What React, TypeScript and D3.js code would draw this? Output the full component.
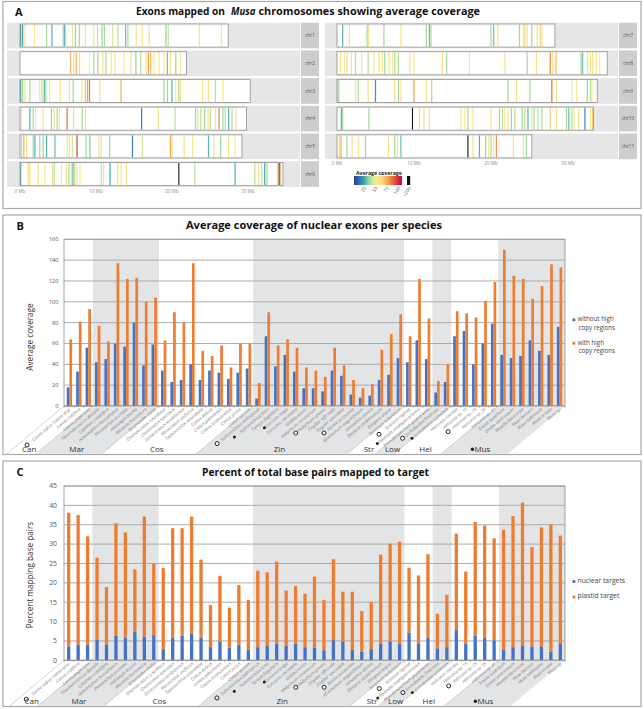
import React from 'react';
import * as d3 from 'd3';

// ---------- panel B / C data ----------
const species = [
  "Canna indica 'Indian shot'", 'Canna iridiflora', 'Canna jaegeriana',
  'Thaumatococcus daniellii', 'Calathea crotalifera', 'Ischnosiphon leucophaeus', 'Pleiostachya pruinosa',
  'Halopegia azurea', 'Maranta leuconeura', 'Stromanthe thalia',
  'Chamaecostus cuspidatus', 'Cheilocostus speciosus', 'Dimerocostus strobilaceus', 'Monocostus uniflorus',
  'Tapeinochilos ananassae', 'Costus dubius', 'Costus gabonensis', 'Costus lucanusianus', 'Costus pictus', 'Costus spiralis',
  'Siphonochilus aethiopicus', 'Siphonochilus kirkii', 'Tamijia flagellaris', 'Curcuma longa', 'Curcuma roscoeana',
  'Globba winitii', 'Hedychium coronarium', 'Hedychium greenii', 'Zingiber officinale', 'Zingiber spectabile',
  'Alpinia purpurata', 'Aframomum angustifolium', 'Renealmia alpinia', 'Elettaria cardamomum', 'Etlingera elatior',
  'Amomum subulatum',
  'Strelitzia reginae', 'Ravenala madagascariensis', 'Phenakospermum guyannense',
  'Orchidantha fimbriata', 'Orchidantha siamensis',
  'Heliconia rostrata', 'Heliconia sp. 15', 'Heliconia sp. 25', 'Heliconia sp. 35', 'Heliconia sp. 41',
  'Ensete superbum', 'Ensete ventricosum', 'Musella lasiocarpa', 'Musa beccarii', 'Musa balbisiana', 'Musa ornata', 'Musa sp.',
];
const familyNames = ['Can', 'Mar', 'Cos', 'Zin', 'Str', 'Low', 'Hel', 'Mus'];
const familySizes = [3, 7, 10, 16, 3, 2, 5, 7];
const openMarkers = [0, 20, 27, 30, 36, 39, 43];
const filledMarkers = [21, 23, 37, 40];

const withoutHighCopy = [
  18, 33, 56, 42, 45, 60, 57, 80, 39, 59, 34, 23, 25, 40, 25, 34, 32, 26, 32, 36,
  7, 67, 38, 49, 33, 17, 17, 14, 34, 29, 11, 8, 10, 25, 30, 46, 42, 63, 45, 13,
  23, 67, 72, 40, 60, 79, 49, 46, 48, 63, 53, 49, 76,
];
const withHighCopy = [
  64, 81, 93, 77, 62, 137, 122, 123, 100, 104, 63, 90, 80, 137, 53, 48, 58, 37, 60, 60,
  22, 90, 58, 64, 56, 37, 34, 28, 56, 39, 25, 17, 21, 54, 69, 88, 67, 122, 84, 24,
  40, 91, 89, 85, 101, 119, 150, 125, 122, 103, 115, 136, 133,
];
const nuclearTargets = [
  3.6, 4.1, 4.1, 5.3, 4.1, 6.3, 5.8, 7.4, 6.1, 6.5, 2.9, 5.8, 6.4, 6.8, 5.9, 3.4, 4.9, 3.2, 4.0, 2.8,
  3.4, 3.8, 4.3, 3.7, 4.3, 3.4, 3.3, 2.6, 5.2, 4.9, 2.8, 2.2, 2.9, 4.2, 4.9, 4.2, 7.2, 4.2, 5.9, 3.1,
  3.4, 7.8, 4.2, 6.3, 5.9, 5.2, 2.8, 3.4, 3.7, 3.6, 3.6, 2.2, 4.4,
];
const plastidTarget = [
  34.5, 33.4, 27.9, 21.2, 14.8, 29.1, 27.2, 16.1, 31.0, 18.6, 20.9, 28.3, 27.7, 30.3, 20.1, 10.9, 16.9, 10.4, 15.4, 12.8,
  19.7, 18.9, 21.2, 14.3, 14.9, 13.8, 18.3, 13.0, 20.9, 12.8, 14.9, 10.5, 12.1, 23.1, 25.2, 26.4, 16.7, 17.7, 21.5, 8.9,
  13.5, 24.9, 18.7, 29.4, 28.9, 26.3, 30.9, 33.8, 37.0, 25.6, 30.7, 32.9, 27.8,
];
const coverageTicks = [0, 20, 40, 60, 80, 100, 120, 140, 160];
const percentTicks = [0, 5, 10, 15, 20, 25, 30, 35, 40, 45];

// ---------- panel A data: [position Mb, average coverage] ----------
const leftChroms = ['chr1', 'chr2', 'chr3', 'chr4', 'chr5', 'chr6'];
const rightChroms = ['chr7', 'chr8', 'chr9', 'chr10', 'chr11'];
const leftLengths = [27.4, 21.9, 30.3, 29.8, 29.2, 34.6];
const rightLengths = [28.3, 35.1, 33.8, 33.3, 25.3];
const chr1 = [[0.1,18],[0.35,22],[0.65,55],[1.9,52],[3.5,35],[4.2,25],[5.7,35],[5.9,22],[6.9,45],[7.3,33],[7.8,35],[8.6,55],[9.7,55],[10.2,38],[10.8,33],[11.1,35],[12.2,42],[12.9,38],[13.9,28],[14.2,35],[15.3,55],[16.1,52],[17.0,55],[19.2,32],[19.5,38],[23.6,55],[26.5,52]];
const chr2 = [[6.67,70],[7.06,55],[7.4,72],[7.84,55],[9.15,52],[9.72,35],[10.24,33],[10.9,55],[11.3,35],[12.0,55],[12.5,52],[13.7,52],[14.6,55],[15.25,33],[15.9,38],[16.6,55],[16.9,75],[17.2,68],[17.65,52],[18.3,55],[18.95,52],[19.4,28],[19.8,55],[20.5,35],[21.1,52]];
const chr3 = [[0.09,18],[0.35,33],[0.65,55],[1.3,35],[2.6,55],[2.9,40],[3.2,25],[3.4,35],[3.9,52],[5.3,55],[6.5,45],[7.0,35],[8.15,55],[8.6,68],[8.9,75],[9.15,82],[10.5,55],[13.3,72],[18.95,33],[19.4,35],[20.0,25],[20.5,55],[20.9,35],[21.1,55],[24.0,55],[24.8,55],[25.7,38],[26.7,52]];
const chr4 = [[0.2,52],[1.3,25],[1.74,35],[2.05,52],[3.05,55],[4.14,33],[4.5,55],[4.9,35],[5.2,55],[6.2,85],[7.06,55],[8.2,35],[8.6,55],[16.0,15],[18.2,55],[20.4,38],[23.1,35],[23.4,55],[23.8,38],[24.3,35],[24.75,55],[25.05,38],[25.7,55],[26.2,80],[26.7,35],[27.0,38],[27.45,25],[27.9,38],[28.4,55]];
const chr5 = [[0.2,65],[0.5,72],[0.87,55],[1.74,35],[1.96,25],[2.6,35],[3.05,33],[3.5,25],[4.6,28],[6.2,45],[6.5,55],[6.9,42],[7.5,95],[8.7,35],[9.2,30],[10.4,55],[10.7,55],[11.8,35],[14.8,15],[16.1,42],[19.8,75],[20.0,55],[21.6,55],[22.7,55],[24.8,25],[25.5,55],[26.4,35],[27.45,55],[28.3,52]];
const chr6 = [[0.09,22],[1.1,62],[1.3,55],[2.4,55],[3.27,52],[4.27,45],[4.5,38],[5.45,55],[6.1,52],[6.45,35],[6.75,55],[6.97,25],[7.2,38],[7.5,55],[7.9,52],[10.7,38],[11.0,55],[11.85,22],[12.85,55],[13.3,52],[14.0,55],[20.9,250],[23.0,38],[28.3,25],[30.9,38],[31.4,55],[31.8,38],[32.2,22],[32.5,35],[33.9,58],[34.1,250],[34.25,70]];
const chr7 = [[0.74,25],[1.6,55],[3.9,35],[4.1,55],[6.1,35],[8.3,55],[11.6,35],[12.0,28],[12.2,35],[20.0,35],[20.35,28],[20.9,55],[23.7,35],[24.2,55],[24.4,62],[24.7,45],[25.3,35],[26.0,55],[26.4,62],[26.6,55]];
const chr8 = [[0.44,55],[1.0,52],[1.3,55],[1.87,55],[2.4,38],[3.2,55],[4.05,38],[4.8,55],[5.45,55],[5.9,52],[6.2,35],[6.75,55],[7.2,52],[7.5,35],[7.97,38],[9.45,55],[10.0,52],[13.7,55],[14.25,35],[17.2,55],[21.8,55],[24.7,35],[25.9,55],[27.7,80],[28.0,55],[28.45,68],[31.7,35],[31.9,28],[32.55,55],[32.9,52],[33.2,55],[33.7,55],[34.1,52]];
const chr9 = [[0.13,30],[0.3,55],[2.4,55],[2.75,35],[4.05,55],[5.0,18],[7.5,55],[8.0,35],[8.3,55],[10.0,75],[11.6,55],[12.3,35],[22.2,35],[23.3,55],[25.05,35],[27.9,85],[28.5,55],[30.5,55],[31.15,55],[32.5,35],[32.9,38],[33.1,52]];
const chr10 = [[0.57,25],[0.74,35],[4.14,35],[9.8,250],[10.7,55],[11.3,55],[12.0,55],[16.1,55],[16.6,52],[17.0,35],[17.65,55],[20.0,55],[21.1,35],[21.5,38],[21.8,55],[22.2,52],[22.65,35],[23.1,38],[24.05,35],[24.4,38],[24.8,25],[25.3,55],[25.6,35],[26.1,38],[26.6,35],[27.7,65],[28.5,55],[29.8,35],[30.1,28],[30.5,38],[30.8,55],[31.4,55],[32.2,15],[32.9,52],[33.2,65]];
const chr11 = [[0.3,62],[0.52,72],[1.3,35],[1.96,55],[2.8,55],[3.7,35],[6.67,55],[7.5,35],[7.84,55],[8.3,28],[17.0,250],[17.65,55],[18.5,25],[19.3,35],[19.7,55],[20.0,35],[20.35,55],[20.7,78],[22.9,55],[24.2,55],[24.6,35]];
const mbTicks = [0, 10, 20, 30];
const legendTicks = [25, 50, 75, 100];
const coverageStops = [0, 12, 22, 32, 42, 50, 62, 75, 88, 100, 106];
const coverageColors = ['#2c3990', '#3470b8', '#3aa7a8', '#8fd3a0', '#d3ea94', '#f4ed90', '#fbd87c', '#f8a04e', '#ec5a3c', '#d31f3a', '#a3104a'];

const W = 644;
const H = 709;
const FONT = "'Open Sans', 'Noto Sans', sans-serif";
const BLUE = '#4472c4';
const ORANGE = '#ed7d31';
const PANEL_L = 3;
const PANEL_R = 641;
const SLANT = Math.tan((40 * Math.PI) / 180);

function PanelA() {
  const color = d3.scaleLinear<string>().domain(coverageStops).range(coverageColors).clamp(true);
  const exonColor = (c: number) => (c > 200 ? '#151515' : color(c));
  const rowTop = (i: number) => 22.7 + i * 27.7;
  const rowH = 25.7;
  const cols = [
    { names: leftChroms, lengths: leftLengths, exons: [chr1, chr2, chr3, chr4, chr5, chr6],
      x: d3.scaleLinear().domain([0, 30]).range([20, 248]), strip: [7, 300], label: [301, 319] },
    { names: rightChroms, lengths: rightLengths, exons: [chr7, chr8, chr9, chr10, chr11],
      x: d3.scaleLinear().domain([0, 30]).range([337, 568]), strip: [325, 618], label: [619, 637] },
  ];
  const lx = d3.scaleLinear().domain([0, 106]).range([354, 402]);

  return (
    <g>
      <rect x={PANEL_L} y={1.5} width={PANEL_R - PANEL_L} height={207} fill="#fff" stroke="#a9a9a9" strokeWidth={1.2} />
      <text x={15} y={15.7} fontSize={11} fontWeight={700} fill="#111">A</text>
      {/* title split in three pieces so the genus can be italic */}
      <text x={136} y={14.8} fontSize={11} fontWeight={700} fill="#111" textLength={89} lengthAdjust="spacingAndGlyphs">Exons mapped on</text>
      <text x={231} y={14.8} fontSize={11} fontWeight={700} fontStyle="italic" fill="#111" textLength={24.5} lengthAdjust="spacingAndGlyphs">Musa</text>
      <text x={258.5} y={14.8} fontSize={11} fontWeight={700} fill="#111" textLength={221.5} lengthAdjust="spacingAndGlyphs">chromosomes showing average coverage</text>
      {cols.map((col, ci) => (
        <g key={ci}>
          {col.names.map((name, ri) => {
            const y0 = rowTop(ri);
            return (
              <g key={name}>
                <rect x={col.strip[0]} y={y0} width={col.strip[1] - col.strip[0]} height={rowH} fill="#e6e6e6" />
                <rect x={col.label[0]} y={y0} width={col.label[1] - col.label[0]} height={rowH} fill="#cdcdcd" />
                <text x={(col.label[0] + col.label[1]) / 2} y={y0 + rowH / 2 + 1.7} fontSize={4.8} fill="#555" textAnchor="middle">{name}</text>
                <rect x={col.x(0)} y={y0 + 1.3} width={col.x(col.lengths[ri]) - col.x(0)} height={rowH - 2.6} fill="#fff" />
                {col.exons[ri].map((e, k) => (
                  <line key={k} x1={col.x(e[0])} x2={col.x(e[0])} y1={y0 + 1.8} y2={y0 + rowH - 1.8}
                    stroke={exonColor(e[1])} strokeWidth={e[1] > 200 ? 1.1 : 1.2} />
                ))}
                <rect x={col.x(0)} y={y0 + 1.3} width={col.x(col.lengths[ri]) - col.x(0)} height={rowH - 2.6} fill="none" stroke="#9a9a9a" strokeWidth={0.9} />
              </g>
            );
          })}
          {mbTicks.map((t) => (
            <text key={t} x={col.x(t)} y={rowTop(col.names.length - 1) + rowH + 6} fontSize={4.6} fill="#8a8a8a" textAnchor="middle">{t} Mb</text>
          ))}
        </g>
      ))}
      <defs>
        <linearGradient id="covGrad" x1="0" x2="1" y1="0" y2="0">
          {coverageStops.map((s, i) => (
            <stop key={i} offset={s / 106} stopColor={coverageColors[i]} />
          ))}
        </linearGradient>
      </defs>
      <text x={356} y={175} fontSize={5.2} fontWeight={700} fill="#222">Average coverage</text>
      <rect x={lx(0)} y={176} width={lx(106) - lx(0)} height={9} fill="url(#covGrad)" />
      <rect x={407} y={176} width={3.2} height={9} fill="#111" />
      {legendTicks.map((t) => (
        <text key={t} transform={`translate(${lx(t) + 1},${188}) rotate(-60)`} fontSize={4.6} fill="#555" textAnchor="end">{t}</text>
      ))}
      <text transform={`translate(${411},${188}) rotate(-60)`} fontSize={4.6} fill="#555" textAnchor="end">&gt;200</text>
    </g>
  );
}

type LegendItem = { color: string; lines: string[]; y: number };

function BarPanel(props: {
  letter: string; title: string; titleX: number; titleW: number; titleY: number;
  boxTop: number; boxBottom: number; plotTop: number; axisY: number; yMax: number; ticks: number[];
  tickFont: number; tickX: number; yTitle: string; yTitleY: number;
  first: number[]; second: number[]; stacked: boolean; padInner: number; padOuter: number;
  legend: LegendItem[]; legendFont: number; id: string;
}) {
  const p = props;
  const plotL = 64;
  const plotR = 565;
  const idx = d3.range(species.length);
  const x = d3.scaleBand<number>().domain(idx).range([plotL, plotR]).paddingInner(p.padInner).paddingOuter(p.padOuter);
  const bw = x.bandwidth();
  const sub = d3.scaleBand<string>().domain(['a', 'b']).range([0, bw]);
  const y = d3.scaleLinear().domain([0, p.yMax]).range([p.axisY, p.plotTop]);
  const boundary = (i: number) => {
    if (i <= 0) return plotL;
    if (i >= species.length) return plotR;
    return ((x(i - 1) as number) + bw + (x(i) as number)) / 2;
  };
  const starts = familySizes.map((_, f) => d3.sum(familySizes.slice(0, f)));
  const depth = p.boxBottom - p.axisY;
  const shift = depth / SLANT;
  const labelY = p.boxBottom - 2.5;
  const labelShift = (labelY - 3 - p.axisY) / SLANT;
  const lblFont = 4.3;
  const cos = Math.cos((40 * Math.PI) / 180);
  const sin = Math.sin((40 * Math.PI) / 180);
  const anchor = (i: number) => [(x(i) as number) + bw / 2 + 1, p.axisY + 2.5];
  const markerPos = (i: number) => {
    const [ax, ay] = anchor(i);
    const d = species[i].length * lblFont * 0.48 + 3;
    return [ax - d * cos, ay + d * sin];
  };

  return (
    <g>
      <rect x={PANEL_L} y={p.boxTop} width={PANEL_R - PANEL_L} height={p.boxBottom - p.boxTop} fill="#fff" stroke="#a9a9a9" strokeWidth={1.2} />
      <text x={16.5} y={p.titleY + 0.5} fontSize={11} fontWeight={700} fill="#111">{p.letter}</text>
      <text x={p.titleX} y={p.titleY} fontSize={11} fontWeight={700} fill="#111" textLength={p.titleW} lengthAdjust="spacingAndGlyphs">{p.title}</text>

      {/* family shading inside the plot */}
      {familyNames.map((f, fi) => fi % 2 === 1 ? (
        <rect key={f} x={boundary(starts[fi])} y={p.plotTop} width={boundary(starts[fi] + familySizes[fi]) - boundary(starts[fi])}
          height={p.axisY - p.plotTop} fill="#e3e4e5" />
      ) : null)}

      {/* gridlines */}
      {p.ticks.map((t) => (
        <line key={t} x1={plotL} x2={plotR} y1={y(t)} y2={y(t)} stroke="#a3a3a3" strokeWidth={0.9} />
      ))}
      <rect x={plotL} y={p.plotTop} width={plotR - plotL} height={p.axisY - p.plotTop} fill="none" stroke="#9a9a9a" strokeWidth={0.9} />
      {p.ticks.map((t) => (
        <text key={t} x={p.tickX} y={y(t)} dy="0.35em" fontSize={p.tickFont} fill="#555" textAnchor="end">{t}</text>
      ))}
      <text transform={`translate(33,${p.yTitleY}) rotate(-90)`} fontSize={8.2} fill="#333" textAnchor="middle">{p.yTitle}</text>

      {/* bars */}
      {idx.map((i) => p.stacked ? (
        <g key={i}>
          <rect x={x(i)} y={y(p.first[i])} width={bw} height={p.axisY - y(p.first[i])} fill={BLUE} />
          <rect x={x(i)} y={y(p.first[i] + p.second[i])} width={bw} height={y(p.first[i]) - y(p.first[i] + p.second[i])} fill={ORANGE} />
        </g>
      ) : (
        <g key={i}>
          <rect x={(x(i) as number) + (sub('a') as number)} y={y(p.first[i])} width={sub.bandwidth()} height={p.axisY - y(p.first[i])} fill={BLUE} />
          <rect x={(x(i) as number) + (sub('b') as number)} y={y(p.second[i])} width={sub.bandwidth()} height={p.axisY - y(p.second[i])} fill={ORANGE} />
        </g>
      ))}

      {/* category ticks */}
      {d3.range(species.length + 1).map((i) => (
        <line key={i} x1={boundary(i)} x2={boundary(i)} y1={p.axisY} y2={p.axisY + 2} stroke="#9a9a9a" strokeWidth={0.6} />
      ))}

      {/* slanted family bands below the axis */}
      <defs>
        <clipPath id={`clip-${p.id}`}>
          <rect x={PANEL_L + 0.8} y={p.axisY} width={PANEL_R - PANEL_L - 1.6} height={depth - 0.8} />
        </clipPath>
      </defs>
      <g clipPath={`url(#clip-${p.id})`}>
        {familyNames.map((f, fi) => {
          const b0 = boundary(starts[fi]);
          const b1 = boundary(starts[fi] + familySizes[fi]);
          const pts = [[b0, p.axisY], [b1, p.axisY], [b1 - shift, p.boxBottom], [b0 - shift, p.boxBottom]];
          return (
            <g key={f}>
              {fi % 2 === 1 ? <polygon points={pts.map((q) => q.join(',')).join(' ')} fill="#e3e4e5" /> : null}
              <line x1={b0} y1={p.axisY} x2={b0 - shift} y2={p.boxBottom} stroke="#b5b5b5" strokeWidth={0.6} />
            </g>
          );
        })}
      </g>
      <line x1={plotL} x2={plotR} y1={p.axisY} y2={p.axisY} stroke="#9a9a9a" strokeWidth={0.9} />

      {/* species labels */}
      {idx.map((i) => {
        const [ax, ay] = anchor(i);
        return (
          <text key={i} transform={`translate(${ax},${ay}) rotate(-40)`} dy="0.35em" fontSize={lblFont} fontStyle="italic" fill="#7d7d7d" textAnchor="end">{species[i]}</text>
        );
      })}
      {openMarkers.map((i) => {
        const [mx, my] = markerPos(i);
        return <circle key={`o${i}`} cx={mx} cy={my} r={2} fill="#fff" stroke="#222" strokeWidth={1} />;
      })}
      {filledMarkers.map((i) => {
        const [mx, my] = markerPos(i);
        return <circle key={`f${i}`} cx={mx} cy={my} r={1.5} fill="#222" />;
      })}

      {/* family labels */}
      {familyNames.map((f, fi) => {
        const b0 = boundary(starts[fi]);
        const b1 = boundary(starts[fi] + familySizes[fi]);
        const cx = Math.max((b0 + b1) / 2 - labelShift + 2, 26.5);
        return (
          <g key={f}>
            {f === 'Mus' ? <circle cx={cx - 10} cy={labelY - 2.8} r={1.7} fill="#222" /> : null}
            <text x={cx} y={labelY} fontSize={8} fill="#333" textAnchor="middle">{f}</text>
          </g>
        );
      })}

      {/* legend */}
      {p.legend.map((l, li) => (
        <g key={li}>
          <rect x={572.5} y={l.y - 2.6} width={2.8} height={2.8} fill={l.color} />
          {l.lines.map((s, k) => (
            <text key={k} x={577.5 + (k > 0 ? 1 : 0)} y={l.y + k * p.legendFont * 1.45} fontSize={p.legendFont} fill="#444">{s}</text>
          ))}
        </g>
      ))}
    </g>
  );
}

export default function App() {
  return (
    <svg width={W} height={H} viewBox={`0 0 ${W} ${H}`} fontFamily={FONT}
      style={{ position: 'absolute', left: 0, top: 0, background: '#fff' }}>
      <rect x={0} y={0} width={W} height={H} fill="#fff" />
      <PanelA />
      <BarPanel id="b" letter="B" title="Average coverage of nuclear exons per species" titleX={186} titleW={256} titleY={229.3}
        boxTop={215} boxBottom={454.5} plotTop={239.3} axisY={406} yMax={160} ticks={coverageTicks}
        tickFont={5.6} tickX={58.5} yTitle="Average coverage" yTitleY={337}
        first={withoutHighCopy} second={withHighCopy} stacked={false} padInner={0.43} padOuter={0.29}
        legend={[
          { color: BLUE, lines: ['without high', 'copy regions'], y: 321 },
          { color: ORANGE, lines: ['with high', 'copy regions'], y: 344.5 },
        ]} legendFont={6.2} />
      <BarPanel id="c" letter="C" title="Percent of total base pairs mapped to target" titleX={202} titleW={227} titleY={475.7}
        boxTop={461} boxBottom={706.5} plotTop={486} axisY={660.3} yMax={45} ticks={percentTicks}
        tickFont={6.8} tickX={57} yTitle="Percent mapping base pairs" yTitleY={575}
        first={nuclearTargets} second={plastidTarget} stacked={true} padInner={0.65} padOuter={0.32}
        legend={[
          { color: BLUE, lines: ['nuclear targets'], y: 582.7 },
          { color: ORANGE, lines: ['plastid target'], y: 598.3 },
        ]} legendFont={6.8} />
    </svg>
  );
}
